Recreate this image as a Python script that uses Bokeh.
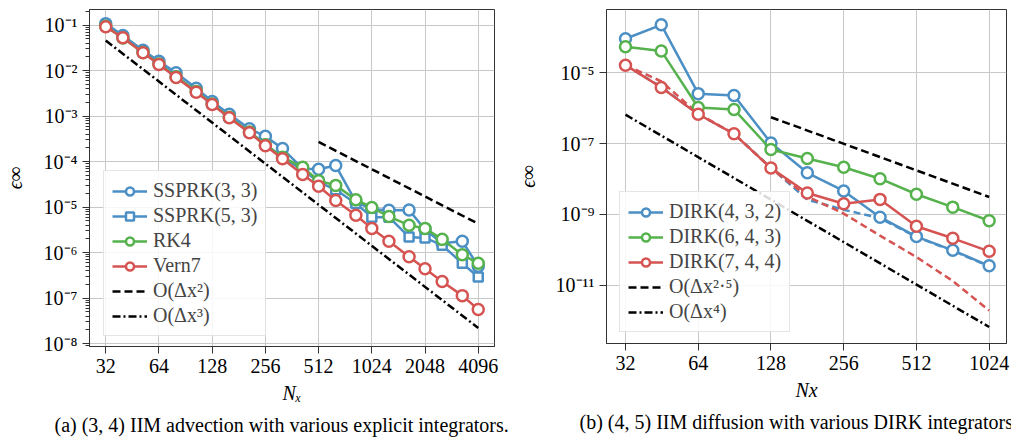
from bokeh.plotting import figure
from bokeh.layouts import row
from bokeh.models import (FixedTicker, CustomJSTickFormatter, Legend, LegendItem,
                          Title, Range1d)
from bokeh.embed import file_html
from bokeh.resources import INLINE

FONT = "Liberation Serif"
BLUE = "#4b8fc5"
GREEN = "#55b24c"
RED = "#d55452"

# ---------------- panel (a) data ----------------
nx_a = [32, 40, 52, 64, 80, 104, 128, 160, 208, 256, 320, 416, 512, 640, 832,
        1024, 1280, 1664, 2048, 2560, 3328, 4096]
ssprk33 = [0.108, 0.059, 0.028, 0.0160, 0.0090, 0.0041, 0.0021, 0.00110, 5.3e-4,
           3.6e-4, 1.93e-4, 7.0e-5, 6.8e-5, 8.2e-5, 1.3e-5, 9.0e-6, 8.5e-6, 8.6e-6,
           3.2e-6, 1.6e-6, 1.77e-6, 5.0e-7]
ssprk53 = [0.098, 0.054, 0.026, 0.0143, 0.0075, 0.0035, 0.00186, 9.6e-4, 4.5e-4,
           2.4e-4, 1.25e-4, 6.5e-5, 3.6e-5, 2.4e-5, 1.2e-5, 6.0e-6, 6.0e-6, 2.2e-6,
           2.1e-6, 1.45e-6, 5.8e-7, 2.9e-7]
rk4 = [0.095, 0.052, 0.025, 0.0140, 0.0073, 0.0035, 0.00185, 9.5e-4, 4.5e-4,
       2.35e-4, 1.25e-4, 7.5e-5, 3.8e-5, 3.0e-5, 1.45e-5, 9.8e-6, 6.2e-6, 4.0e-6,
       3.4e-6, 1.95e-6, 9.0e-7, 5.8e-7]
vern7 = [0.092, 0.053, 0.0247, 0.0137, 0.0071, 0.00337, 0.0018, 9.2e-4, 4.3e-4,
         2.24e-4, 1.16e-4, 5.2e-5, 2.88e-5, 1.4e-5, 6.6e-6, 3.4e-6, 1.78e-6, 8.1e-7,
         4.4e-7, 2.3e-7, 1.13e-7, 5.6e-8]
ref2_x = [512, 4096]
ref2_y = [2.7e-4, 4.3e-6]
ref3_x = [32, 4096]
ref3_y = [4.6e-2, 2.2e-8]

x_ticks_a = [32, 64, 128, 256, 512, 1024, 2048, 4096]
x_labels_a = ["32", "64", "128", "256", "512", "1024", "2048", "4096"]
y_ticks_a = [1e-8, 1e-7, 1e-6, 1e-5, 1e-4, 1e-3, 1e-2, 1e-1]
y_labels_a = ["10⁻⁸", "10⁻⁷", "10⁻⁶", "10⁻⁵", "10⁻⁴", "10⁻³", "10⁻²", "10⁻¹"]
y_minor_a = [k * 10.0 ** e for e in range(-9, 0) for k in range(2, 10)]

# ---------------- panel (b) data ----------------
nx_b = [32, 45, 64, 90, 128, 181, 256, 362, 512, 724, 1024]
dirk432 = [9.3e-5, 2.3e-4, 2.6e-6, 2.3e-6, 1.05e-7, 1.5e-8, 4.6e-9, 8.3e-10,
           2.35e-10, 9.6e-11, 3.5e-11]
dirk643 = [5.5e-5, 4.2e-5, 1.05e-6, 9.3e-7, 6.8e-8, 3.8e-8, 2.15e-8, 1.02e-8,
           3.7e-9, 1.6e-9, 6.6e-10]
dirk744 = [1.66e-5, 3.9e-6, 6.8e-7, 1.9e-7, 2.04e-8, 4.0e-9, 2.0e-9, 2.65e-9,
           4.6e-10, 2.1e-10, 9.0e-11]
dirk432_ref = [1.66e-5, 4.0e-6, 6.8e-7, 1.9e-7, 2.1e-8, 2.6e-9, 1.35e-9, 7.8e-10,
               2.3e-10, 9.3e-11, 3.4e-11]
dirk744_ref = [1.66e-5, 5.8e-6, 7.0e-7, 1.9e-7, 2.0e-8, 3.2e-9, 1.05e-9, 2.5e-10,
               6.2e-11, 1.3e-11, 1.9e-12]
ref25_x = [128, 1024]
ref25_y = [5.6e-7, 3.1e-9]
ref4_x = [32, 1024]
ref4_y = [6.6e-7, 6.5e-13]

x_ticks_b = [32, 64, 128, 256, 512, 1024]
x_labels_b = ["32", "64", "128", "256", "512", "1024"]
y_ticks_b = [1e-11, 1e-9, 1e-7, 1e-5]
y_labels_b = ["10⁻¹¹", "10⁻⁹", "10⁻⁷", "10⁻⁵"]

FMT_CODE = """
let best = 0, bd = Infinity;
for (let i = 0; i < tv.length; i++) {
  const d = Math.abs(Math.log(tick) - Math.log(tv[i]));
  if (d < bd) { bd = d; best = i; }
}
return tl[best];
"""


def fmt(ticks, labels):
    return CustomJSTickFormatter(args=dict(tv=ticks, tl=labels), code=FMT_CODE)


def style(p, xt, xl, yt, yl, yminor, xlabel, ylab_standoff):
    p.xaxis.ticker = FixedTicker(ticks=xt)
    p.xaxis.formatter = fmt(xt, xl)
    p.yaxis.ticker = FixedTicker(ticks=yt, minor_ticks=yminor)
    p.yaxis.formatter = fmt(yt, yl)
    for ax in (p.xaxis, p.yaxis):
        ax.major_label_text_font = FONT
        ax.major_label_text_font_size = "20px"
        ax.major_label_text_color = "black"
        ax.axis_label_text_font = FONT
        ax.axis_label_text_font_size = "20px"
        ax.axis_label_text_font_style = "italic"
        ax.axis_label_text_color = "black"
        ax.axis_line_color = "#333333"
        ax.major_tick_line_color = "#333333"
        ax.minor_tick_line_color = "#333333"
        ax.major_tick_out = 7
        ax.major_tick_in = 0
        ax.minor_tick_out = 4
        ax.minor_tick_in = 0
        ax.major_label_standoff = 5
    p.xaxis.minor_tick_line_color = None
    p.xaxis.axis_label = xlabel
    p.xaxis.axis_label_standoff = 6
    p.yaxis.axis_label = "ϵ∞"
    p.yaxis.axis_label_standoff = ylab_standoff
    p.grid.grid_line_color = "#c8c8c8"
    p.grid.grid_line_width = 1
    p.outline_line_color = "#333333"
    p.outline_line_width = 1
    p.background_fill_color = "white"


def make_legend(items, loc):
    lg = Legend(items=items, location=loc, label_text_font=FONT,
                label_text_font_size="20px", glyph_width=35, glyph_height=20,
                label_height=20, label_standoff=6, spacing=2, padding=8, margin=0,
                border_line_color="#cccccc", border_line_width=1,
                background_fill_alpha=0.85)
    return lg


# ---------------- panel (a) ----------------
p1 = figure(x_axis_type="log", y_axis_type="log",
            x_range=Range1d(25.9, 5062), y_range=Range1d(8.6e-9, 0.221),
            frame_width=405, frame_height=337, min_border_left=88,
            min_border_right=19, min_border_top=6, min_border_bottom=97,
            output_backend="svg", toolbar_location=None)
style(p1, x_ticks_a, x_labels_a, y_ticks_a, y_labels_a, y_minor_a, "Nₓ", 15)

r_o2 = p1.line(ref2_x, ref2_y, line_color="black", line_width=2.5, line_dash="8 4")
r_o3 = p1.line(ref3_x, ref3_y, line_color="black", line_width=2.5, line_dash="8 3 2 3")

items_a = []
for name, ys, col, mk, sz in [("SSPRK(3, 3)", ssprk33, BLUE, "circle", 11),
                              ("SSPRK(5, 3)", ssprk53, BLUE, "square", 9),
                              ("RK4", rk4, GREEN, "circle", 11),
                              ("Vern7", vern7, RED, "circle", 11)]:
    l = p1.line(nx_a, ys, line_color=col, line_width=2.5)
    s = p1.scatter(nx_a, ys, marker=mk, size=sz, line_color=col, line_width=2.5,
                   fill_color="white")
    items_a.append(LegendItem(label=name, renderers=[l, s]))
items_a.append(LegendItem(label="O(Δx²)", renderers=[r_o2]))
items_a.append(LegendItem(label="O(Δx³)", renderers=[r_o3]))
p1.add_layout(make_legend(items_a, (14, 10)))
p1.add_layout(Title(text="(a) (3, 4) IIM advection with various explicit integrators.",
                    align="left", offset=-35, text_font=FONT, text_font_size="20px",
                    text_font_style="normal", text_color="black"), "below")

# ---------------- panel (b) ----------------
p2 = figure(x_axis_type="log", y_axis_type="log",
            x_range=Range1d(26.7, 1208), y_range=Range1d(2.22e-13, 6.24e-4),
            frame_width=400, frame_height=334, min_border_left=92,
            min_border_right=7, min_border_top=9, min_border_bottom=97,
            output_backend="svg", toolbar_location=None)
style(p2, x_ticks_b, x_labels_b, y_ticks_b, y_labels_b, [], "Nx", 14)

r_o25 = p2.line(ref25_x, ref25_y, line_color="black", line_width=2.5, line_dash="8 4")
r_o4 = p2.line(ref4_x, ref4_y, line_color="black", line_width=2.5, line_dash="8 3 2 3")
p2.line(nx_b, dirk432_ref, line_color=BLUE, line_width=2.5, line_dash="7 4")
p2.line(nx_b, dirk744_ref, line_color=RED, line_width=2.5, line_dash="7 4")

items_b = []
for name, ys, col in [("DIRK(4, 3, 2)", dirk432, BLUE),
                      ("DIRK(6, 4, 3)", dirk643, GREEN),
                      ("DIRK(7, 4, 4)", dirk744, RED)]:
    l = p2.line(nx_b, ys, line_color=col, line_width=2.5)
    s = p2.scatter(nx_b, ys, marker="circle", size=11, line_color=col, line_width=2.5,
                   fill_color="white")
    items_b.append(LegendItem(label=name, renderers=[l, s]))
items_b.append(LegendItem(label="O(Δx²·⁵)", renderers=[r_o25]))
items_b.append(LegendItem(label="O(Δx⁴)", renderers=[r_o4]))
p2.add_layout(make_legend(items_b, (13, 11)))
p2.add_layout(Title(text="(b) (4, 5) IIM diffusion with various DIRK integrators.",
                    align="left", offset=-27, text_font=FONT, text_font_size="20px",
                    text_font_style="normal", text_color="black"), "below")

layout = row(p1, p2)
open("out.html", "w").write(file_html(layout, INLINE))
